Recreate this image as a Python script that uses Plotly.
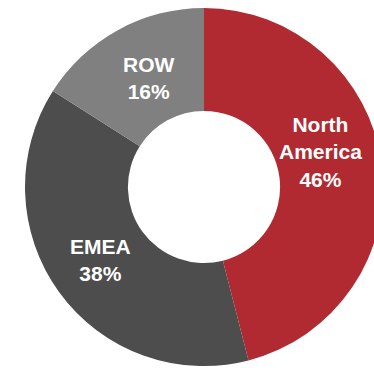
import plotly.graph_objects as go

regions = ["North<br>America", "EMEA", "ROW"]
shares = [46, 38, 16]
colors = ["#B12A31", "#4D4D4D", "#808080"]

# label block centres in pixels (x from left, y from top)
label_px = [(320, 152), (100, 260), (149, 78)]

W, H = 392, 368
cx, cy, r = 204, 187, 179

fig = go.Figure(go.Pie(
    labels=regions,
    values=shares,
    sort=False,
    direction="clockwise",
    rotation=0,
    hole=0.425,
    marker=dict(colors=colors, line=dict(color="#FFFFFF", width=0)),
    textinfo="none",
    hoverinfo="skip",
    domain=dict(x=[(cx - r) / W, (cx + r) / W], y=[(H - cy - r) / H, (H - cy + r) / H]),
))

for lab, val, (px, py) in zip(regions, shares, label_px):
    fig.add_annotation(
        x=px / W, y=1 - py / H, xref="paper", yref="paper",
        text=f"<b>{lab}</b><br><b>{val}%</b>",
        showarrow=False, xanchor="center", yanchor="middle", align="center",
        font=dict(family="Liberation Sans, Arial, sans-serif", size=21, color="#FFFFFF"),
    )

fig.update_layout(
    width=W, height=H,
    autosize=False,
    margin=dict(l=0, r=0, t=0, b=0),
    paper_bgcolor="#FFFFFF",
    plot_bgcolor="#FFFFFF",
    showlegend=False,
)

fig.write_html("out.html", config={"displayModeBar": False, "responsive": False})
